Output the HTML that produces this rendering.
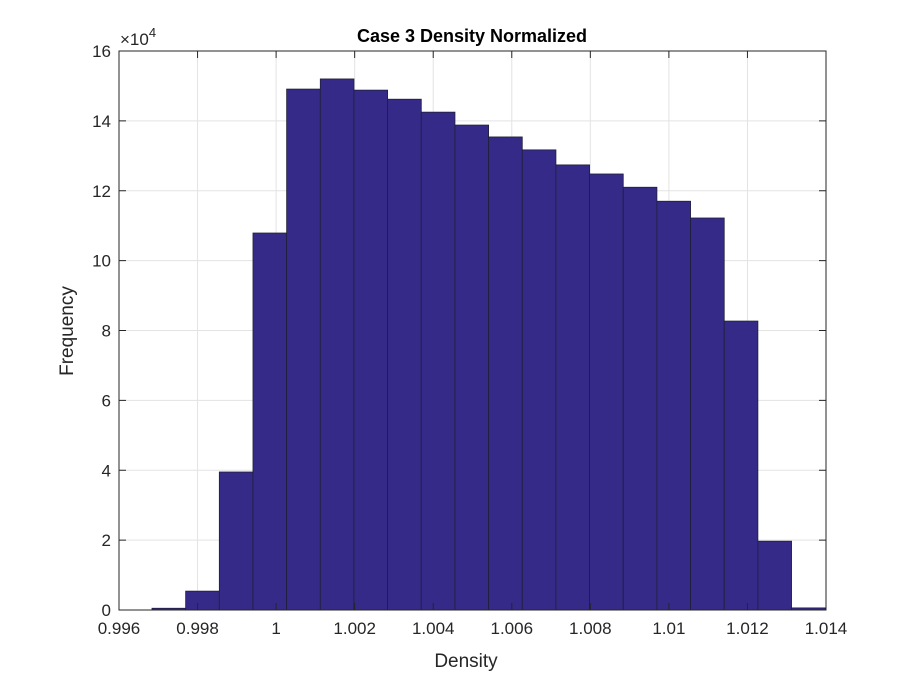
<!DOCTYPE html>
<html><head><meta charset="utf-8"><style>
body{margin:0;background:#fff;}
svg text{font-family:"Liberation Sans",sans-serif;fill:#262626;}
</style></head><body>
<svg id="chart" width="913" height="685" xmlns="http://www.w3.org/2000/svg">
<rect x="0" y="0" width="913" height="685" fill="#fff"/>
<g id="grid"></g><g id="bars"></g><g id="axes"></g>
</svg>
<script>
const binStart = 0.99684;
const binWidth = 0.000857;
const counts = [0.05,0.54,3.95,10.79,14.91,15.2,14.88,14.62,14.25,13.88,13.54,13.17,12.74,12.48,12.1,11.7,11.22,8.27,1.97,0.06];
const xTicks = [0.996,0.998,1,1.002,1.004,1.006,1.008,1.01,1.012,1.014];
const xTickLabels = ["0.996","0.998","1","1.002","1.004","1.006","1.008","1.01","1.012","1.014"];
const yTicks = [0,2,4,6,8,10,12,14,16];

const L=119,R=826,T=51,B=610;
const xs=v=>L+(v-0.996)/(0.018)*(R-L);
const ys=v=>B-v/16*(B-T);
const NS="http://www.w3.org/2000/svg";
function mk(tag,attrs,parent,text){const e=document.createElementNS(NS,tag);for(const k in attrs)e.setAttribute(k,attrs[k]);if(text!==undefined)e.textContent=text;parent.appendChild(e);return e;}
const grid=document.getElementById('grid'),bars=document.getElementById('bars'),axes=document.getElementById('axes');
mk('rect',{x:L,y:T,width:R-L,height:B-T,fill:'#fff'},grid);
xTicks.forEach(t=>{const l=mk('line',{x1:xs(t),x2:xs(t),y1:T,y2:B,stroke:'#e3e3e3','stroke-width':1},grid);

});
yTicks.forEach(t=>{const l=mk('line',{x1:L,x2:R,y1:ys(t),y2:ys(t),stroke:'#e3e3e3','stroke-width':1},grid);

});
counts.forEach((c,i)=>{const x0=xs(binStart+i*binWidth),x1=xs(binStart+(i+1)*binWidth);
const r=mk('rect',{x:x0,y:ys(c),width:x1-x0,height:B-ys(c),fill:'#352a87',stroke:'#1f1f3a','stroke-width':0.8},bars);

});
mk('rect',{x:L,y:T,width:R-L,height:B-T,fill:'none',stroke:'#262626','stroke-width':1},axes);
xTicks.forEach((t,i)=>{const x=xs(t);
mk('line',{x1:x,x2:x,y1:B,y2:B-7,stroke:'#262626'},axes);
mk('line',{x1:x,x2:x,y1:T,y2:T+7,stroke:'#262626'},axes);
const tx=mk('text',{x:x,y:B+24,'text-anchor':'middle','font-size':17},axes,xTickLabels[i]);

});
yTicks.forEach(t=>{const y=ys(t);
mk('line',{x1:L,x2:L+7,y1:y,y2:y,stroke:'#262626'},axes);
mk('line',{x1:R,x2:R-7,y1:y,y2:y,stroke:'#262626'},axes);
const tx=mk('text',{x:L-8,y:y+6,'text-anchor':'end','font-size':17},axes,String(t));

});
</script>
<svg style="position:absolute;left:0;top:0" width="913" height="685">
<text x="120" y="45" font-size="17">×10<tspan font-size="13" dy="-8">4</tspan></text>
<text x="472" y="42" text-anchor="middle" font-size="18" font-weight="bold" fill="#000" style="fill:#000">Case 3 Density Normalized</text>
<text x="466" y="667" text-anchor="middle" font-size="19">Density</text>
<text x="73" y="331" text-anchor="middle" font-size="19" transform="rotate(-90 73 331)">Frequency</text>
</svg>
</body></html>
